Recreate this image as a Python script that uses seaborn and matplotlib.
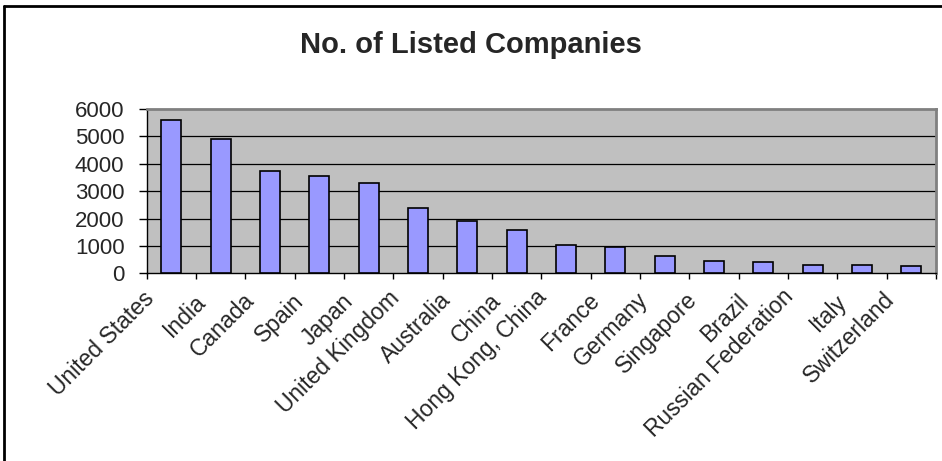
import matplotlib
matplotlib.use("Agg")
import matplotlib.pyplot as plt
from matplotlib.lines import Line2D
from matplotlib.transforms import ScaledTranslation
from matplotlib.textpath import TextPath
from matplotlib.font_manager import FontProperties
import seaborn as sns
import pandas as pd

countries = [
    "United States", "India", "Canada", "Spain", "Japan", "United Kingdom",
    "Australia", "China", "Hong Kong, China", "France", "Germany", "Singapore",
    "Brazil", "Russian Federation", "Italy", "Switzerland",
]
listed = [5600, 4890, 3750, 3550, 3300, 2400, 1910, 1580, 1040, 970, 630, 440,
          430, 310, 300, 250]
y_ticks = [0, 1000, 2000, 3000, 4000, 5000, 6000]
title = "No. of Listed Companies"

df = pd.DataFrame({"country": countries, "companies": listed})

sns.set_style("white")
plt.rcParams["font.family"] = ["Liberation Sans", "DejaVu Sans"]

W, H, DPI = 942, 461, 100
LABEL_SIZE = 16.5
fig = plt.figure(figsize=(W / DPI, H / DPI), dpi=DPI)
ax = fig.add_axes([146.7 / W, 1 - 273.3 / H, (936 - 146.7) / W, (273.3 - 109) / H])
ax.set_facecolor("#C0C0C0")

sns.barplot(data=df, x="country", y="companies", color="#9999FF", saturation=1,
            edgecolor="black", linewidth=1.2, width=0.4, ax=ax, zorder=3)

ax.set_xlim(-0.5, len(countries) - 0.5)
ax.set_ylim(0, 6000)
ax.set_yticks(y_ticks)
ax.set_xlabel("")
ax.set_ylabel("")

# horizontal gridlines behind bars
for v in y_ticks[1:-1]:
    ax.axhline(v, color="black", lw=0.9, zorder=1)

# spines: black axes, grey plot-area border
for side in ("left", "bottom"):
    ax.spines[side].set_color("black")
    ax.spines[side].set_linewidth(1.0)
for side in ("top", "right"):
    ax.spines[side].set_color("#808080")
    ax.spines[side].set_linewidth(2.0)
    ax.spines[side].set_visible(True)

ax.tick_params(axis="y", direction="out", length=6, width=1, color="black",
               pad=10, labelsize=16, left=True)

# category labels at centres, tick marks between categories
ax.set_xticks(range(len(countries)))
ax.set_xticks([i + 0.5 for i in range(-1, len(countries))], minor=True)
ax.tick_params(axis="x", which="major", length=0, pad=0, labelsize=LABEL_SIZE)
ax.tick_params(axis="x", which="minor", direction="out", length=4, width=1,
               color="black", bottom=True)
ax.set_xticklabels(countries, rotation=45, rotation_mode="anchor",
                   ha="right", va="center")

# longer labels sit a little further up the diagonal
prop = FontProperties(family="Liberation Sans", size=LABEL_SIZE)
for lab in ax.get_xticklabels():
    length_px = TextPath((0, 0), lab.get_text(), prop=prop).get_extents().width * DPI / 72
    u = 0.03 * length_px
    dx = -17 - u
    dy = -26 + u
    lab.set_transform(lab.get_transform()
                      + ScaledTranslation(dx / DPI, dy / DPI, fig.dpi_scale_trans))

fig.text(0.5, 1 - 45 / H, title, ha="center", va="center",
         fontsize=21, fontweight="bold")

# outer chart frame (left and top edges)
fig.add_artist(Line2D([3.5 / W, 3.5 / W], [0, 1 - 6 / H],
                      transform=fig.transFigure, color="black", lw=2))
fig.add_artist(Line2D([3.5 / W, 1], [1 - 6 / H, 1 - 6 / H],
                      transform=fig.transFigure, color="black", lw=2))

fig.savefig("out.png", dpi=DPI)
